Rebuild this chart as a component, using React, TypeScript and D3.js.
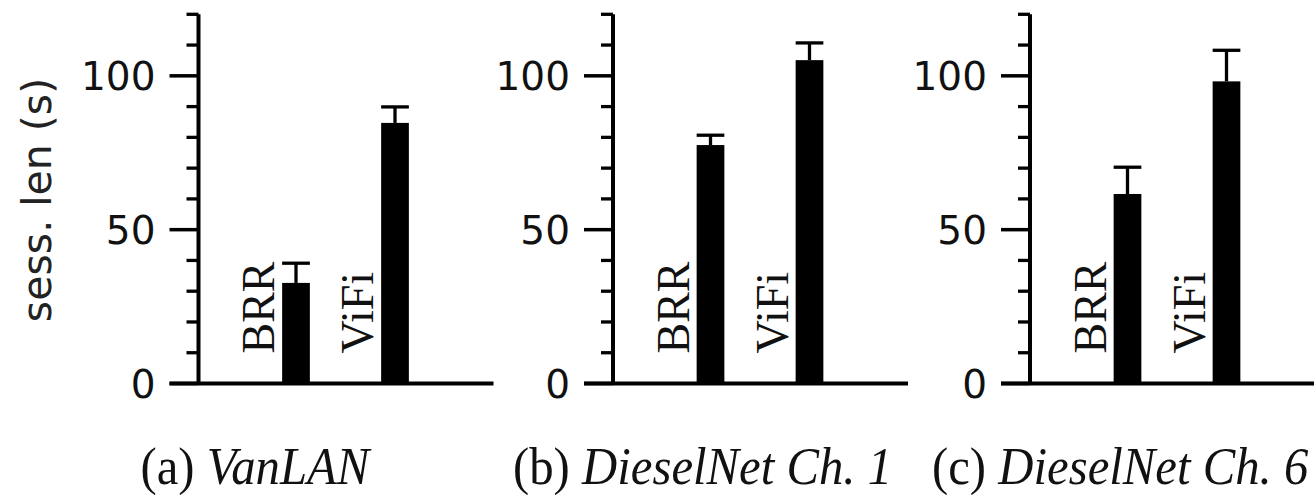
import { scaleBand, scaleLinear } from "d3";

const categories = ["BRR", "ViFi"];
const panelLetters = ["(a)", "(b)", "(c)"];
const panelNames = ["VanLAN", "DieselNet Ch. 1", "DieselNet Ch. 6"];
// mean session length (s) per panel, per category
const meanValues = [
  [32.7, 84.7],
  [77.5, 105.1],
  [61.6, 98.2]
];
// top of the error bar
const upperValues = [
  [39.1, 89.9],
  [80.7, 110.7],
  [70.3, 108.3]
];
const majorTicks = [0, 50, 100];
const minorTicks = [10, 20, 30, 40, 60, 70, 80, 90, 110, 120];
const yLabel = "sess. len (s)";

const width = 1314;
const height = 495;
const axisXs = [198.5, 613, 1030];
const captionOffsets = [-58, -100, -98];
const plotWidth = 295;
const majorTickLen = 29;
const minorTickLen = 12;
const sansFont = "'DejaVu Sans', Verdana, sans-serif";
const serifFont = "'Liberation Serif', 'Times New Roman', serif";

function Panel({ index }: { index: number }) {
  const axisX = axisXs[index];
  const y = scaleLinear().domain([0, 120]).range([383.5, 14.3]);
  const x = scaleBand<string>()
    .domain(categories)
    .range([48, 246])
    .paddingInner(0.72)
    .paddingOuter(0.36);
  const bw = x.bandwidth();

  return (
    <g transform={`translate(${axisX}, 0)`}>
      {/* y axis */}
      <line x1={0} x2={0} y1={y(120)} y2={y(0)} stroke="#000" strokeWidth={4} />
      {minorTicks.map((t) => (
        <line
          key={`m${t}`}
          x1={-minorTickLen}
          x2={0}
          y1={y(t)}
          y2={y(t)}
          stroke="#000"
          strokeWidth={3.3}
        />
      ))}
      {majorTicks.map((t) => (
        <g key={`M${t}`}>
          <line
            x1={-majorTickLen}
            x2={0}
            y1={y(t)}
            y2={y(t)}
            stroke="#000"
            strokeWidth={3.5}
          />
          <text
            x={-43}
            y={y(t) + 14}
            textAnchor="end"
            fontFamily={sansFont}
            fontSize={39}
            fill="#111"
          >
            {t}
          </text>
        </g>
      ))}
      {/* x axis baseline */}
      <line
        x1={-majorTickLen}
        x2={plotWidth}
        y1={y(0)}
        y2={y(0)}
        stroke="#000"
        strokeWidth={4}
      />
      {categories.map((c, i) => {
        const bx = x(c) ?? 0;
        const mean = meanValues[index][i];
        const upper = upperValues[index][i];
        const cx = bx + bw / 2;
        return (
          <g key={c}>
            <rect x={bx} y={y(mean)} width={bw} height={y(0) - y(mean)} fill="#000" />
            <line x1={cx} x2={cx} y1={y(mean)} y2={y(upper)} stroke="#000" strokeWidth={3.3} />
            <line x1={bx} x2={bx + bw} y1={y(upper)} y2={y(upper)} stroke="#000" strokeWidth={3.3} />
            <text
              transform={`translate(${bx - 8}, ${y(0) - 30}) rotate(-90)`}
              fontFamily={serifFont}
              fontSize={46}
              fill="#111"
            >
              {c}
            </text>
          </g>
        );
      })}
      <text
        transform={`translate(${captionOffsets[index]}, 484) scale(0.92, 1)`}
        fontFamily={serifFont}
        fontSize={53}
        fill="#111"
      >
        {panelLetters[index]}{" "}
        <tspan fontStyle="italic">{panelNames[index]}</tspan>
      </text>
    </g>
  );
}

export default function App() {
  return (
    <svg
      width={width}
      height={height}
      viewBox={`0 0 ${width} ${height}`}
      style={{ position: "fixed", left: 0, top: 0, background: "#fff", display: "block" }}
    >
      <rect x={0} y={0} width={width} height={height} fill="#fff" />
      <text
        transform={`translate(51, 200) rotate(-90)`}
        textAnchor="middle"
        fontFamily={sansFont}
        fontSize={41}
        fill="#222"
      >
        {yLabel}
      </text>
      {panelLetters.map((_, i) => (
        <Panel key={i} index={i} />
      ))}
    </svg>
  );
}
